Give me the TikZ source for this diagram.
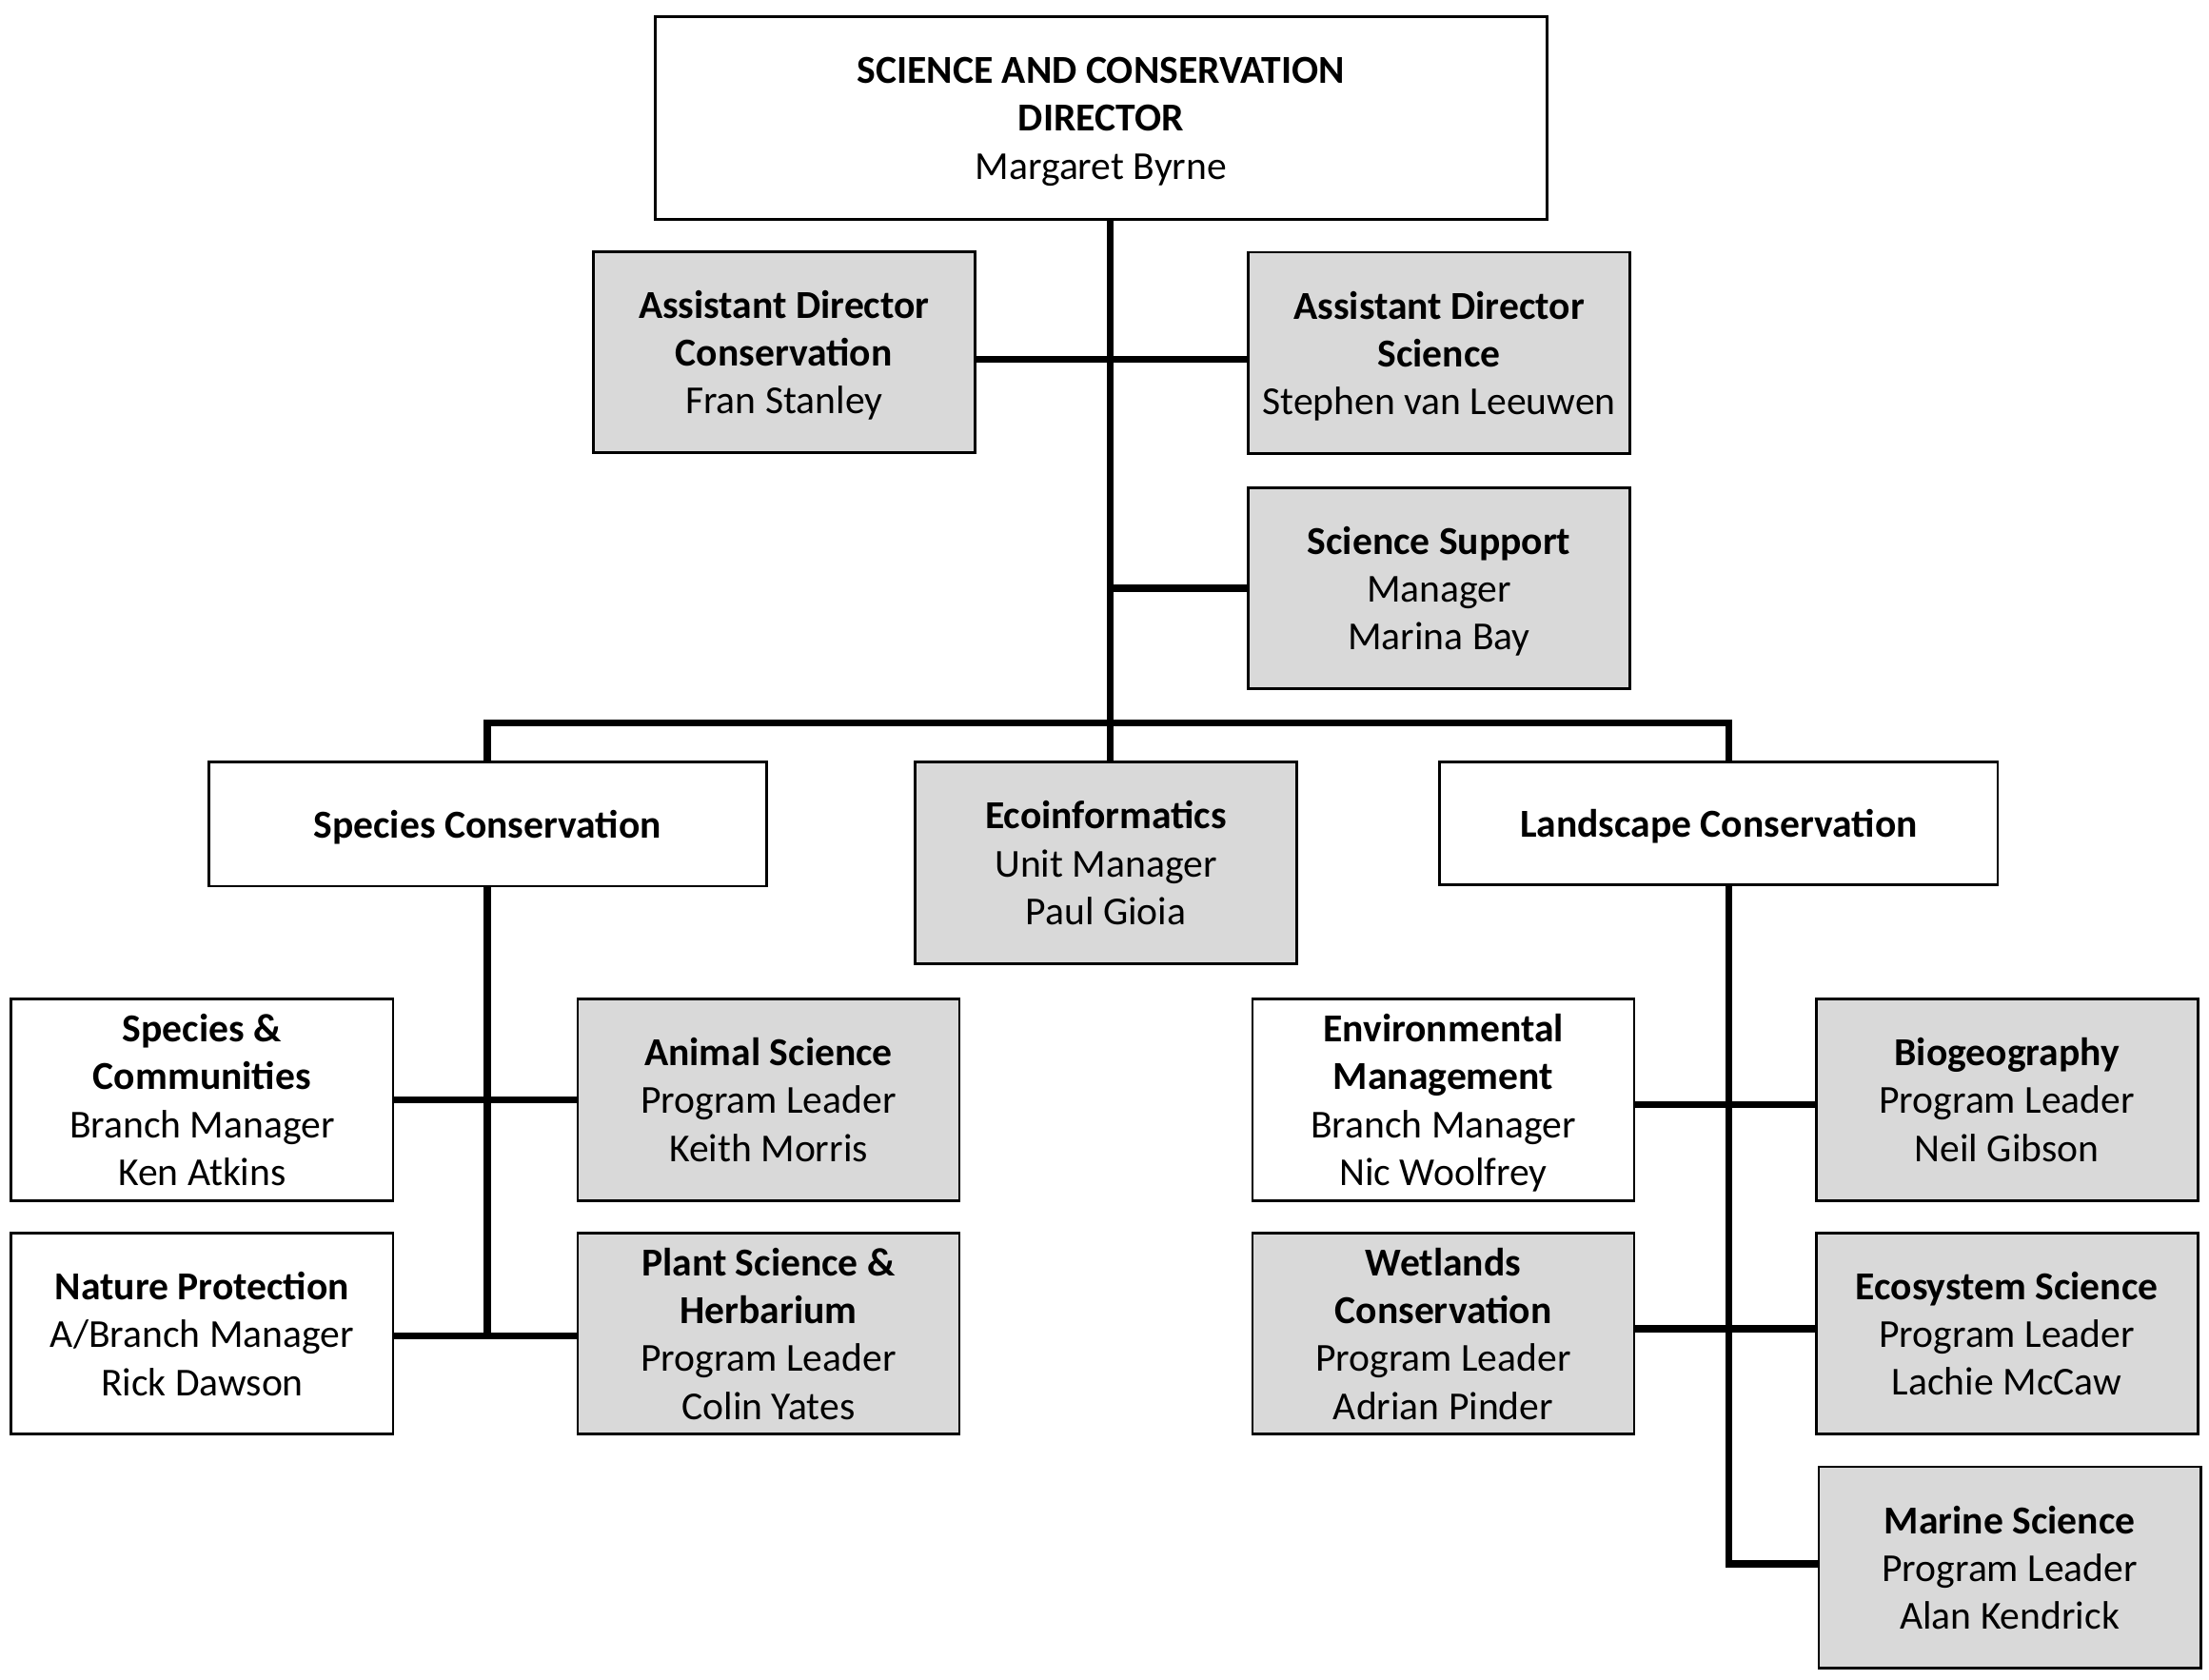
\documentclass[tikz,border=0pt]{standalone}
\usepackage{fontspec}
\setmainfont{Carlito}
\usetikzlibrary{positioning}
\definecolor{boxgrey}{HTML}{D9D9D9}

\begin{document}
\begin{tikzpicture}[x=0.02cm,y=-0.02cm,
  every node/.style={font=\fontsize{16}{19.35}\selectfont,align=center,inner sep=0pt,text depth=0pt},
  box/.style={draw,line width=1.1pt,fill=white,minimum width=5.42cm,minimum height=2.86cm},
  greybox/.style={box,fill=boxgrey},
  conn/.style={line width=2.85pt}]
\useasboundingbox (0,0) rectangle (1568,1192);
\node[box,minimum width=12.66cm,minimum height=2.88cm] (dir) at (781.5,84) {\textbf{SCIENCE AND CONSERVATION}\\\textbf{DIRECTOR}\\Margaret Byrne};
\node[greybox] (adc) at (556.5,250) {\textbf{Assistant Director}\\\textbf{Conservation}\\Fran Stanley};
\node[greybox] (ads) at (1021.5,250.5) {\textbf{Assistant Director}\\\textbf{Science}\\Stephen van Leeuwen};
\node[greybox] (ss) at (1021.5,417.5) {\textbf{Science Support}\\Manager\\Marina Bay};
\node[box,minimum width=7.92cm,minimum height=1.76cm] (spc) at (346,585) {\textbf{Species Conservation}};
\node[greybox] (eco) at (785,612.5) {\textbf{Ecoinformatics}\\Unit Manager\\Paul Gioia};
\node[box,minimum width=7.92cm,minimum height=1.74cm] (lsc) at (1220,584.5) {\textbf{Landscape Conservation}};
\node[box] (sc) at (143.5,780.5) {\textbf{Species \&}\\\textbf{Communities}\\Branch Manager\\Ken Atkins};
\node[greybox] (as) at (545.5,780.5) {\textbf{Animal Science}\\Program Leader\\Keith Morris};
\node[box] (np) at (143.5,946.5) {\textbf{Nature Protection}\\A/Branch Manager\\Rick Dawson};
\node[greybox] (ps) at (545.5,946.5) {\textbf{Plant Science \&}\\\textbf{Herbarium}\\Program Leader\\Colin Yates};
\node[box] (em) at (1024.5,780.5) {\textbf{Environmental}\\\textbf{Management}\\Branch Manager\\Nic Woolfrey};
\node[greybox] (bg) at (1424.5,780.5) {\textbf{Biogeography}\\Program Leader\\Neil Gibson};
\node[greybox] (wc) at (1024.5,946.5) {\textbf{Wetlands}\\\textbf{Conservation}\\Program Leader\\Adrian Pinder};
\node[greybox] (es) at (1424.5,946.5) {\textbf{Ecosystem Science}\\Program Leader\\Lachie McCaw};
\node[greybox] (ms) at (1426.5,1112.5) {\textbf{Marine Science}\\Program Leader\\Alan Kendrick};
% junctions
\coordinate (ad) at (788,255);
\coordinate (bus) at (788,513);
\coordinate (rt) at (1227,513);
\draw[conn] (dir.south -| bus) -- (eco.north -| bus);
\draw[conn] (adc.east |- ad) -- (ads.west |- ad);
\draw[conn] (bus |- ss.west) -- (ss.west);
\draw[conn] (spc.north) -- (spc.north |- bus) -- (rt) -- (lsc.north -| rt);
\draw[conn] (spc.south) -- ([yshift=-0.03cm]spc.south |- ps.west);
\draw[conn] (sc.east) -- (as.west);
\draw[conn] ([yshift=-0.03cm]np.east) -- ([yshift=-0.03cm]ps.west);
\draw[conn] (lsc.south -| rt) -- ([yshift=0.05cm]rt |- ms.west) -- ([yshift=0.05cm]ms.west);
\draw[conn] ([yshift=-0.07cm]em.east) -- ([yshift=-0.07cm]bg.west);
\draw[conn] ([yshift=0.07cm]wc.east) -- ([yshift=0.07cm]es.west);
\end{tikzpicture}
\end{document}
